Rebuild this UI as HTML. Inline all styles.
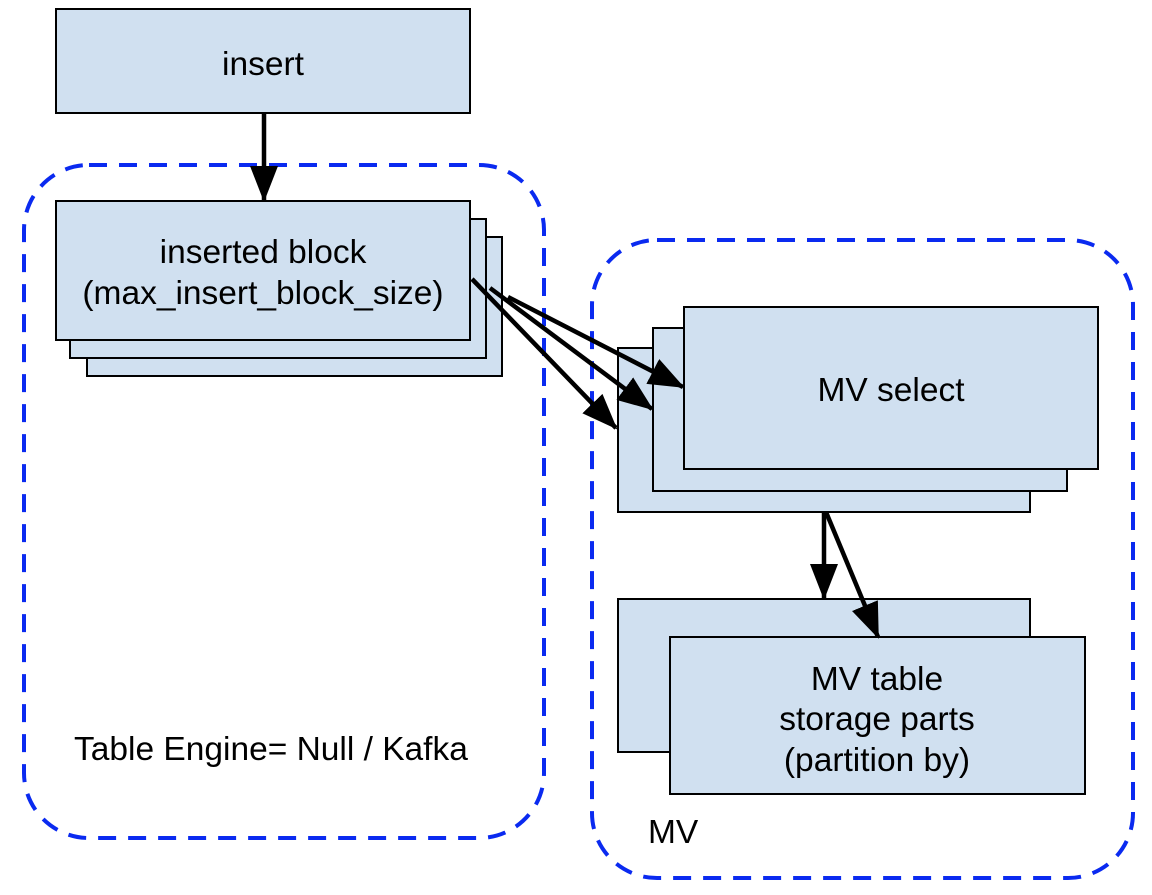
<!DOCTYPE html>
<html><head><style>
body{margin:0;background:#fff;width:1152px;height:890px;overflow:hidden}
svg text{font-family:"Liberation Sans",Arial,sans-serif;font-size:33.5px;fill:#000}
</style></head><body>
<svg width="1152" height="890" viewBox="0 0 1152 890">
<defs>
<marker id="b" markerWidth="36" markerHeight="30" refX="34" refY="15" orient="auto" markerUnits="userSpaceOnUse" viewBox="0 0 36 30"><path d="M0,1L36,15L0,29z" fill="#000"/></marker></defs>
<g fill="#d0e0f0" stroke="#000" stroke-width="2">
<rect x="56" y="9" width="414" height="104"/>
<rect x="87" y="237" width="415" height="139"/>
<rect x="70" y="219" width="416" height="139"/>
<rect x="56" y="201" width="414" height="139"/>
<rect x="618" y="348" width="412" height="164"/>
<rect x="653" y="328" width="414" height="163"/>
<rect x="684" y="307" width="414" height="162"/>
<rect x="618" y="599" width="412" height="153"/>
<rect x="670" y="637" width="415" height="157"/>
</g>
<g fill="none" stroke="#0a2af0" stroke-width="4" stroke-dasharray="18 12">
<rect x="24" y="165" width="520" height="673" rx="65"/>
<rect x="592" y="240" width="541" height="638" rx="65"/>
</g>
<g stroke="#000" stroke-width="4.5" fill="none">
<line x1="264" y1="113" x2="264" y2="200" marker-end="url(#b)"/>
<line x1="472" y1="279" x2="616" y2="428" marker-end="url(#b)"/>
<line x1="490" y1="288" x2="652" y2="409" marker-end="url(#b)"/>
<line x1="508" y1="297" x2="683" y2="387" marker-end="url(#b)"/>
<line x1="824" y1="512" x2="824" y2="598" marker-end="url(#b)"/>
<line x1="826" y1="512" x2="878" y2="637" marker-end="url(#b)"/>
</g>
<text x="263" y="75" text-anchor="middle">insert</text>
<text x="263" y="263" text-anchor="middle">inserted block</text>
<text x="263" y="304" text-anchor="middle">(max_insert_block_size)</text>
<text x="891" y="401" text-anchor="middle">MV select</text>
<text x="877" y="690" text-anchor="middle">MV table</text>
<text x="877" y="730" text-anchor="middle">storage parts</text>
<text x="877" y="771" text-anchor="middle">(partition by)</text>
<text x="74" y="760">Table Engine= Null / Kafka</text>
<text x="648" y="843">MV</text>
</svg>
</body></html>
